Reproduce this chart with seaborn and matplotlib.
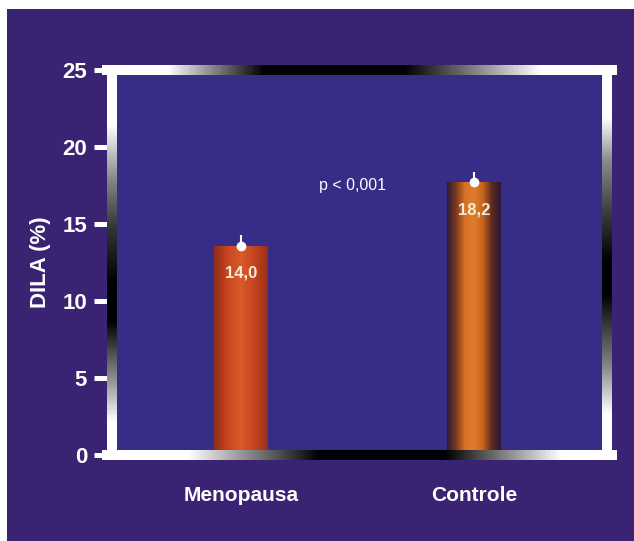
import numpy as np
import pandas as pd
import matplotlib
matplotlib.use("Agg")
import matplotlib.pyplot as plt
import seaborn as sns
from matplotlib.collections import LineCollection
from matplotlib.colors import LinearSegmentedColormap

# ---- data ----
categories = ["Menopausa", "Controle"]
bar_heights = [13.6, 17.7]          # bar tops as drawn
value_labels = ["14,0", "18,2"]      # printed values
err_upper = [0.7, 0.7]
y_ticks = [0, 5, 10, 15, 20, 25]
p_text = "p < 0,001"
y_label = "DILA (%)"

sns.set_theme(style="white")
FONT = ["Liberation Sans Narrow", "Liberation Sans", "DejaVu Sans"]
plt.rcParams["font.family"] = FONT

OUTER = "#3a2372"
INNER = "#372d86"

fig = plt.figure(figsize=(6.34, 5.41), dpi=100)
fig.patch.set_facecolor("white")
fig.add_artist(plt.Rectangle((7 / 634, 0), 1, 1 - 9 / 541, transform=fig.transFigure,
                             facecolor=OUTER, edgecolor="none", zorder=0))

ax = fig.add_axes([112 / 634, 86 / 541, 495 / 634, 385 / 541])
ax.set_facecolor(INNER)

df = pd.DataFrame({"grupo": categories, "valor": bar_heights})
sns.barplot(data=df, x="grupo", y="valor", ax=ax, width=0.23, errorbar=None,
            color="#c84a1e", linewidth=0, zorder=2)

grads = [
    LinearSegmentedColormap.from_list("m", ["#8e2c18", "#c8451f", "#d95a2a", "#c4441e", "#9a3019"]),
    LinearSegmentedColormap.from_list("c", ["#2c1838", "#7a3a1c", "#d87028", "#e07e2c", "#c8641e", "#5a2a20", "#2a1838"]),
]
grad = np.linspace(0, 1, 256).reshape(1, -1)
for patch, cmap in zip(ax.patches, grads):
    x0, y0 = patch.get_x(), patch.get_y()
    w, h = patch.get_width(), patch.get_height()
    im = ax.imshow(grad, cmap=cmap, aspect="auto", extent=(x0, x0 + w, y0, y0 + h),
                   zorder=2, interpolation="bicubic")
    im.set_clip_path(patch)
    patch.set_facecolor("none")
    patch.set_edgecolor("none")
    patch.set_linewidth(0)

xpos = np.arange(len(categories))
ax.errorbar(xpos, bar_heights, yerr=[np.zeros(len(err_upper)), err_upper], fmt="o",
            color="white", ecolor="white", elinewidth=1.5, capsize=0, markersize=6, zorder=4)

for xi, h, lab in zip(xpos, bar_heights, value_labels):
    ax.text(xi, h - 1.8, lab, ha="center", va="center", color="#f4ecd8",
            fontsize=12, fontweight="bold", zorder=5)

ax.text(0.48, 17.5, p_text, ha="center", va="center", color="white", fontsize=11.5, zorder=5)

ax.set_xlim(-0.554, 1.571)
ax.set_ylim(0, 25)
ax.set_yticks(y_ticks)
ax.set_yticklabels([str(t) for t in y_ticks])
ax.set_xlabel("")
ax.set_ylabel(y_label, color="white", fontsize=16, fontweight="bold", labelpad=8)

for s in ax.spines.values():
    s.set_visible(False)

ax.tick_params(axis="y", which="major", left=True, length=13, width=3.6, color="white",
               labelcolor="white", labelsize=16, pad=5)
ax.tick_params(axis="x", bottom=False, labelcolor="white", labelsize=15, pad=16)
for lab in ax.get_yticklabels() + ax.get_xticklabels():
    lab.set_fontweight("bold")

def gray_profile(t, pts, vals):
    return np.interp(t, pts, vals)

tick_gray = {0: 1.0, 5: 0.95, 10: 0.0, 15: 0.2, 20: 1.0, 25: 1.0}
for tick, v in zip(ax.yaxis.get_major_ticks(), y_ticks):
    g = tick_gray[v]
    tick.tick1line.set_color((g, g, g))

lw = 7.2
n = 300
t = np.linspace(0, 1, n + 1)
hx = 5 / 495

def add_line(xs, ys, grays):
    pts = np.column_stack([xs, ys]).reshape(-1, 1, 2)
    segs = np.concatenate([pts[:-1], pts[1:]], axis=1)
    gm = (grays[:-1] + grays[1:]) / 2
    cols = np.column_stack([gm, gm, gm, np.ones_like(gm)])
    lc = LineCollection(segs, colors=cols, linewidths=lw, transform=ax.transAxes,
                        clip_on=False, capstyle="projecting", zorder=6)
    ax.add_collection(lc)

left_g = gray_profile(t, [0, 0.1, 0.2, 0.36, 0.46, 0.6, 0.72, 0.87, 1], [1, 1, 0.6, 0.0, 0.0, 0.2, 0.5, 1, 1])
right_g = gray_profile(t, [0, 0.12, 0.25, 0.43, 0.52, 0.65, 0.78, 0.89, 1], [1, 1, 0.5, 0.0, 0.0, 0.25, 0.55, 1, 1])
top_g = gray_profile(t, [0, 0.13, 0.32, 0.6, 0.87, 1], [1, 1, 0.0, 0.0, 1, 1])
bot_g = gray_profile(t, [0, 0.17, 0.43, 0.68, 0.91, 1], [1, 1, 0.0, 0.0, 1, 1])

add_line(np.zeros_like(t), t, left_g)
add_line(np.ones_like(t), t, right_g)
add_line(-hx + t * (1 + 2 * hx), np.ones_like(t), top_g)
add_line(-hx + t * (1 + 2 * hx), np.zeros_like(t), bot_g)

fig.savefig("out.png", dpi=100, facecolor=fig.get_facecolor())
